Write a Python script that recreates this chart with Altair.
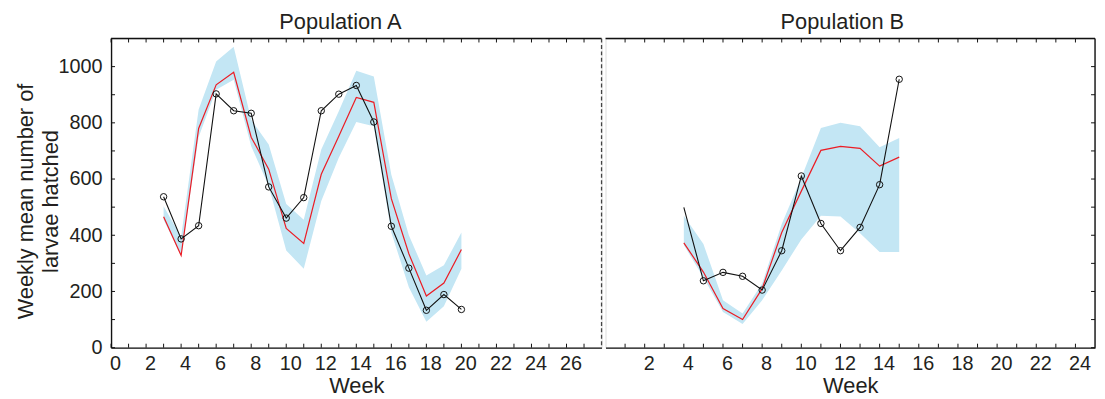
import altair as alt
import pandas as pd

# ---------------- data ----------------
weeks_a = list(range(3, 21))
obs_a = [537, 387, 434, 903, 843, 834, 572, 461, 534, 843, 902, 933, 803, 432, 283, 133, 189, 136]
pred_a = [466, 328, 780, 935, 980, 749, 635, 424, 371, 617, 752, 890, 873, 530, 334, 184, 230, 349]
lo_a = [455, 328, 750, 918, 953, 717, 575, 346, 281, 522, 676, 803, 788, 410, 215, 92, 147, 281]
hi_a = [503, 395, 847, 1018, 1071, 811, 723, 511, 455, 705, 841, 985, 965, 615, 400, 257, 293, 410]

weeks_b = list(range(4, 16))
obs_b = [499, 238, 268, 254, 205, 345, 611, 442, 345, 428, 580, 955]
marker_b = [False] + [True] * 11
pred_b = [373, 269, 139, 100, 210, 410, 557, 702, 716, 709, 646, 678]
lo_b = [365, 250, 127, 84, 169, 275, 385, 469, 467, 407, 340, 340]
hi_b = [469, 369, 169, 122, 228, 440, 605, 782, 800, 788, 713, 746]

x_labels_a = list(range(0, 27, 2))
x_labels_b = list(range(2, 25, 2))
x_ticks_a = list(range(0, 28))
x_ticks_b = list(range(1, 25))
y_labels = [0, 200, 400, 600, 800, 1000]
y_ticks = list(range(0, 1001, 100))

titles = ["Population A", "Population B"]
y_title = ["Weekly mean number of", "larvae hatched"]
x_title = "Week"

# ---------------- style ----------------
FONT = "Liberation Sans"
TXT = "#231f20"
FRAME = "#111111"
BLUE = "#c3e6f4"
RED = "#ec1c24"
BLACK = "#111111"
H = 312
W_A = 495
W_B = 494
Y_DOM = [0, 1100]
TICK = 4


def panel(weeks, obs, pred, lo, hi, marker, x_dom, x_labels, x_ticks, width, title, left, tdx):
    df = pd.DataFrame({"week": weeks, "obs": obs, "pred": pred, "lo": lo, "hi": hi, "marker": marker})
    xs = alt.Scale(domain=x_dom, nice=False, zero=False)
    ys = alt.Scale(domain=Y_DOM, nice=False, zero=False)
    base = alt.Chart(df)

    x_axis = alt.Axis(orient="bottom", values=x_labels, ticks=False, grid=False, domain=True,
                      domainColor=FRAME, domainWidth=1.4,
                      labelFontSize=20, labelFont=FONT, labelColor=TXT,
                      labelPadding=6, labelOffset=4, labelFlush=False,
                      title=x_title, titleFontSize=22, titleFont=FONT,
                      titleFontWeight="normal", titleColor=TXT, titlePadding=2)
    if left:
        y_axis = alt.Axis(orient="left", values=y_labels, ticks=False, grid=False, domain=True,
                          domainColor=FRAME, domainWidth=1.4, format="d",
                          labelFontSize=20, labelFont=FONT, labelColor=TXT,
                          labelPadding=9, labelFlush=False,
                          title=y_title, titleFontSize=22, titleFont=FONT,
                          titleFontWeight="normal", titleColor=TXT,
                          titleLineHeight=24.5, titleBaseline="alphabetic",
                          titleAngle=-90, titleX=-79, titleY=H / 2 + 8)
    else:
        y_axis = None

    band = base.mark_area(color=BLUE, opacity=1).encode(
        x=alt.X("week:Q", scale=xs, axis=x_axis),
        y=alt.Y("lo:Q", scale=ys, axis=y_axis),
        y2="hi:Q")
    red = base.mark_line(color=RED, strokeWidth=1.2).encode(
        x=alt.X("week:Q", scale=xs, axis=None),
        y=alt.Y("pred:Q", scale=ys, axis=None))
    blk = base.mark_line(color=BLACK, strokeWidth=1.1).encode(
        x=alt.X("week:Q", scale=xs, axis=None),
        y=alt.Y("obs:Q", scale=ys, axis=None))
    pts = base.transform_filter("datum.marker").mark_point(
        shape="circle", size=42, filled=False, color=BLACK, strokeWidth=1, opacity=1
    ).encode(
        x=alt.X("week:Q", scale=xs, axis=None),
        y=alt.Y("obs:Q", scale=ys, axis=None))

    xt = alt.Chart(pd.DataFrame({"t": x_ticks}))
    bot_ticks = xt.mark_rule(color=FRAME, strokeWidth=1).encode(
        x=alt.X("t:Q", scale=xs, axis=None), y=alt.value(H), y2=alt.value(H - TICK))
    top_ticks = xt.mark_rule(color=FRAME, strokeWidth=1).encode(
        x=alt.X("t:Q", scale=xs, axis=None), y=alt.value(0), y2=alt.value(TICK))

    yt = alt.Chart(pd.DataFrame({"v": y_ticks}))
    if left:
        side_ticks = yt.mark_rule(color=FRAME, strokeWidth=1).encode(
            y=alt.Y("v:Q", scale=ys, axis=None), x=alt.value(0), x2=alt.value(TICK))
    else:
        side_ticks = yt.mark_rule(color=FRAME, strokeWidth=1).encode(
            y=alt.Y("v:Q", scale=ys, axis=None), x=alt.value(width - TICK), x2=alt.value(width))

    top_line = alt.Chart(pd.DataFrame({"a": [0]})).mark_rule(color=FRAME, strokeWidth=1.4).encode(
        x=alt.value(0), x2=alt.value(width), y=alt.value(0))
    layers = [band, red, blk, pts, bot_ticks, top_ticks, side_ticks, top_line]
    if left:
        dash = alt.Chart(pd.DataFrame({"a": [0]})).mark_rule(
            color="#444444", strokeWidth=1.3, strokeDash=[4, 2.5]).encode(
            x=alt.value(width), y=alt.value(0), y2=alt.value(H))
        layers.append(dash)
    else:
        rline = alt.Chart(pd.DataFrame({"a": [0]})).mark_rule(color=FRAME, strokeWidth=1.4).encode(
            x=alt.value(width), y=alt.value(0), y2=alt.value(H))
        layers.append(rline)

    return alt.layer(*layers).resolve_axis(
        x="independent", y="independent"
    ).properties(
        width=width, height=H,
        title=alt.TitleParams(title, fontSize=22, font=FONT, fontWeight="normal",
                              color=TXT, baseline="alphabetic", offset=-13, dx=tdx),
    )


left = panel(weeks_a, obs_a, pred_a, lo_a, hi_a, [True] * len(weeks_a),
             [0, 28], x_labels_a, x_ticks_a, W_A, titles[0], True, -16)
right = panel(weeks_b, obs_b, pred_b, lo_b, hi_b, marker_b,
              [0, 25], x_labels_b, x_ticks_b, W_B, titles[1], False, -8)

chart = alt.hconcat(left, right, spacing=0).properties(
    padding={"left": 6, "top": 0, "right": 0, "bottom": 0}
).configure_view(stroke=None).configure(background="white")

chart.save("out.html", embed_options={"renderer": "svg", "actions": False})
